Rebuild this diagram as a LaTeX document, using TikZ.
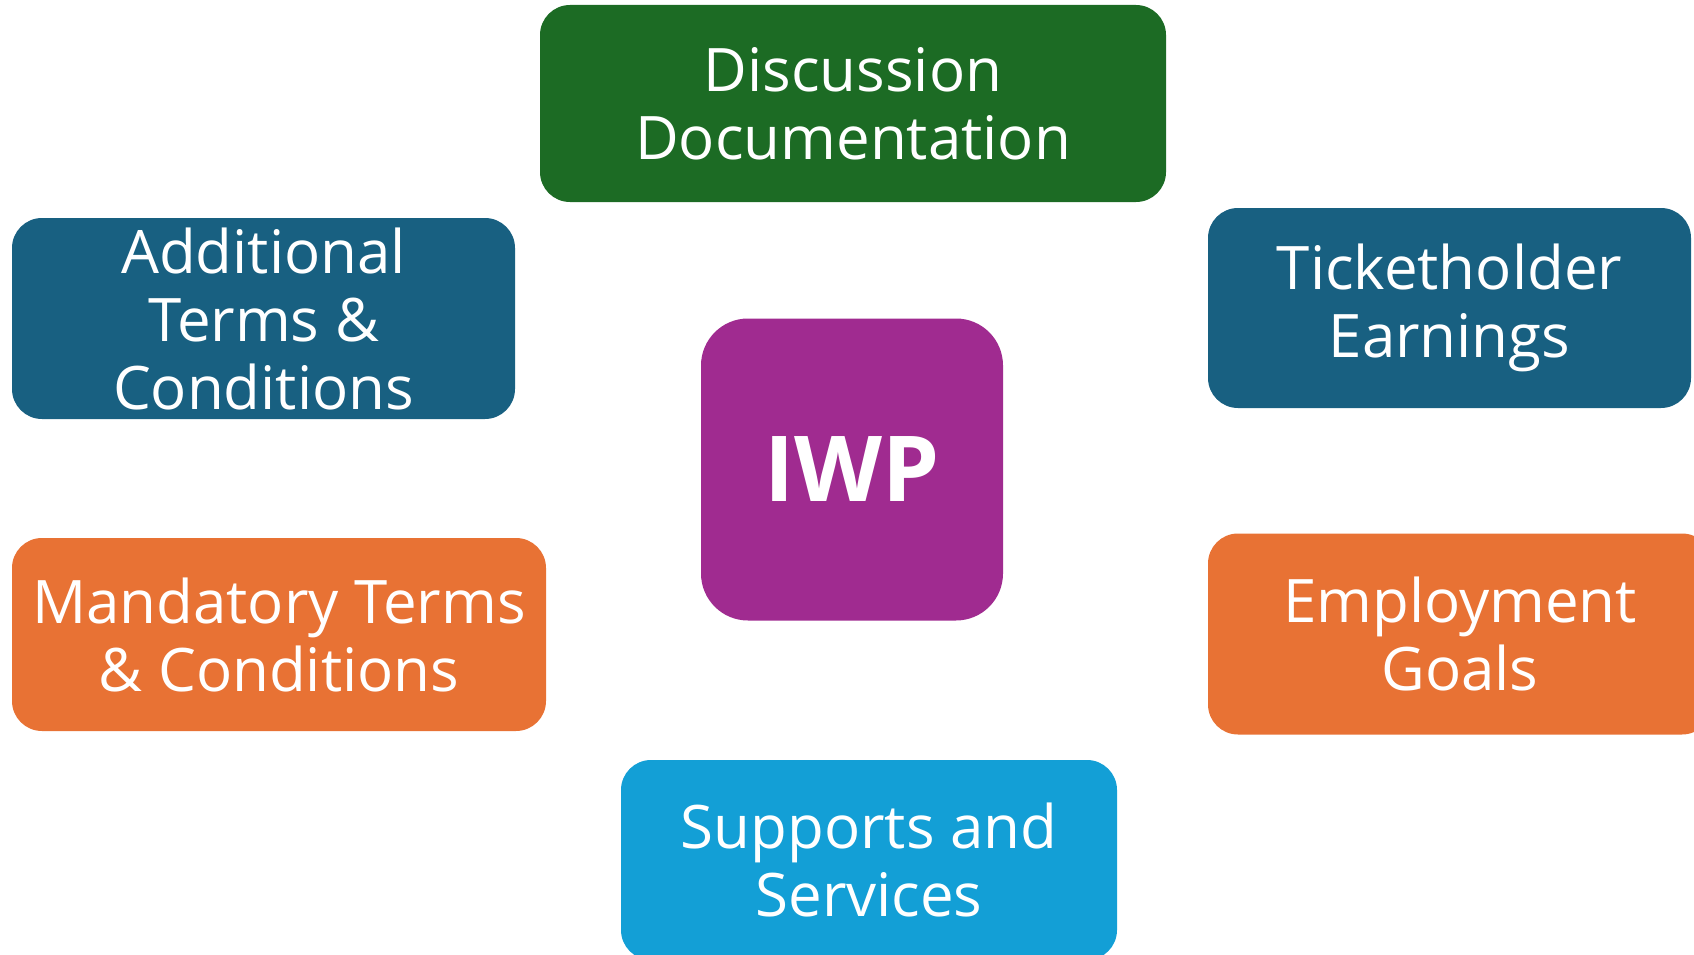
\documentclass[tikz,border=0pt]{standalone}
\usepackage{fontspec}
\setmainfont{Open Sans}
\definecolor{cgreen}{HTML}{1C6B24}
\definecolor{cteal}{HTML}{186081}
\definecolor{cpurple}{HTML}{A02B90}
\definecolor{corange}{HTML}{E87234}
\definecolor{clblue}{HTML}{139FD6}
\tikzset{
  box/.style={rounded corners=30pt, inner sep=0pt, text=white, align=center,
    font=\fontsize{60}{68}\selectfont},
  hub/.style={rounded corners=47pt, inner sep=0pt, text=white, align=center,
    font=\fontsize{91}{100}\selectfont\bfseries, fill=cpurple,
    minimum width=302pt, minimum height=302pt}
}
\begin{document}
\begin{tikzpicture}[x=1pt,y=-1pt]
\useasboundingbox (0,0) rectangle (1694,955);
\clip (0,0) rectangle (1694,955);
\node[box, fill=cgreen, minimum width=626pt, minimum height=197pt] (disc) at (853,103.5) {Discussion\\Documentation};
\node[box, fill=cteal, minimum width=503pt, minimum height=201pt] (add) at (263.5,318.5) {Additional\\Terms \&\\Conditions};
\node[box, fill=cteal, minimum width=483pt, minimum height=200pt] (tick) at (1449.5,308) {Ticketholder\\Earnings};
\node[box, fill=corange, minimum width=534pt, minimum height=193pt] (mand) at (279,634.5) {Mandatory Terms\\\& Conditions};
\node[box, fill=corange, minimum width=504pt, minimum height=201pt] (empl) at (1460,634) {Employment\\Goals};
\node[box, fill=clblue, minimum width=496pt, minimum height=200pt] (supp) at (869,860) {Supports and\\Services};
\node[hub] (iwp) at (852,469.5) {IWP};
\end{tikzpicture}
\end{document}
